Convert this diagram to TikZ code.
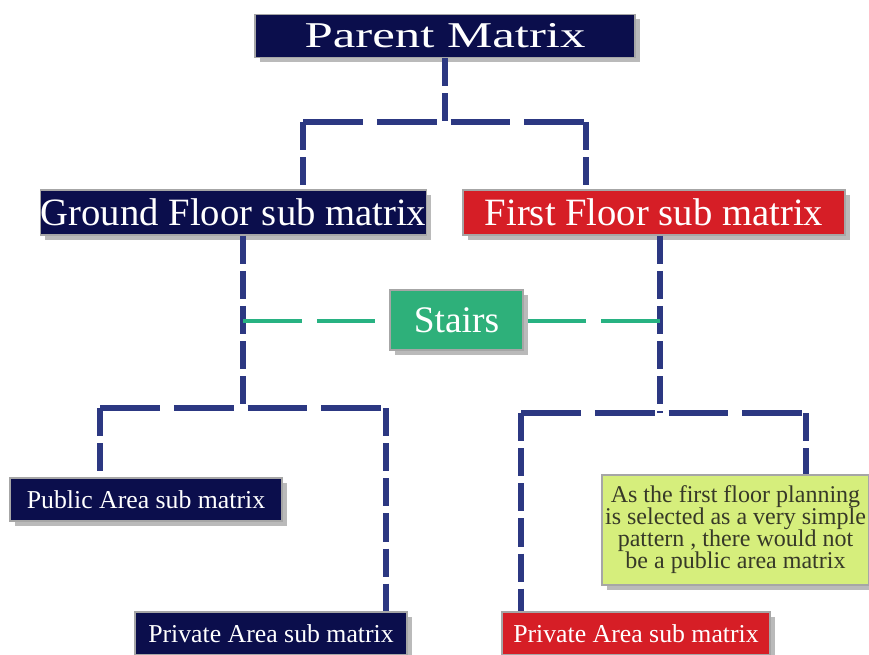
\documentclass[tikz,border=0pt]{standalone}
\usepackage{fontspec}
\setmainfont{Liberation Serif}
\newfontfamily\widefont[FakeStretch=1.4]{Liberation Serif}
\usetikzlibrary{shadows}

\definecolor{navybox}{RGB}{11,14,76}
\definecolor{redbox}{RGB}{214,30,38}
\definecolor{greenbox}{RGB}{46,176,122}
\definecolor{notebox}{RGB}{214,238,124}
\definecolor{notetext}{RGB}{55,57,40}
\definecolor{linkblue}{RGB}{44,56,130}
\definecolor{linkgreen}{RGB}{40,178,130}

\tikzset{
  matbox/.style={draw=gray!70, line width=1.2pt, inner sep=0pt, text=white,
    drop shadow={shadow xshift=4pt, shadow yshift=-4pt, fill=black!45, opacity=0.6}},
  hlink/.style={linkblue, line width=4.5pt, dash pattern=on 51pt off 12pt},
  vlink/.style={linkblue, line width=5pt, dash pattern=on 24pt off 6pt},
  glink/.style={linkgreen, line width=4pt, dash pattern=on 50pt off 13pt}
}

\begin{document}
\begin{tikzpicture}[x=0.03cm, y=-0.03cm]
    \useasboundingbox (0,0) rectangle (869,655);

    % Top level
    \node[matbox, fill=navybox, minimum width=11.4cm, minimum height=1.29cm,
      font=\widefont\fontsize{31}{34}\selectfont] (parent) at (445,36) {Parent Matrix};

    % Floor level
    \node[matbox, fill=navybox, minimum width=11.49cm, minimum height=1.35cm,
      font=\fontsize{33}{36}\selectfont] (ground) at (233.5,212.5) {Ground Floor sub matrix};
    \node[matbox, fill=redbox, minimum width=11.46cm, minimum height=1.35cm,
      font=\fontsize{33}{36}\selectfont] (first) at (654,212.5) {First Floor sub matrix};

    % Stairs
    \node[matbox, fill=greenbox, minimum width=3.99cm, minimum height=1.8cm,
      font=\fontsize{32}{35}\selectfont] (stairs) at (456.5,320) {Stairs};

    % Area level
    \node[matbox, fill=navybox, minimum width=8.16cm, minimum height=1.29cm,
      font=\fontsize{22}{25}\selectfont] (gpublic) at (146,499.5) {Public Area sub matrix};
    \node[matbox, fill=navybox, minimum width=8.16cm, minimum height=1.29cm,
      font=\fontsize{22}{25}\selectfont] (gprivate) at (271,633.5) {Private Area sub matrix};
    \node[matbox, fill=redbox, minimum width=8.04cm, minimum height=1.29cm,
      font=\fontsize{22}{25}\selectfont] (fprivate) at (636,633.5) {Private Area sub matrix};
    \node[matbox, fill=notebox, text=notetext, minimum width=8.01cm, minimum height=3.3cm,
      align=center, font=\fontsize{20.5}{18.8}\selectfont] (note) at (735.5,530)
      {As the first floor planning\\is selected as a very simple\\pattern , there would not\\be a public area matrix};

    % Parent -> floors
    \coordinate (pj) at (445,122);
    \coordinate (pl) at (303,122);
    \coordinate (pr) at (586,122);
    \draw[vlink] (parent.south) -- (pj);
    \draw[hlink] (pl) -- (pr);
    \draw[vlink] (pl) -- (pl |- ground.north);
    \draw[vlink] (pr) -- (pr |- first.north);

    % Ground floor -> areas
    \coordinate (gj) at (243,408);
    \coordinate (gl) at (100,408);
    \coordinate (gr) at (386,408);
    \draw[vlink] (gj |- ground.south) -- (gj);
    \draw[hlink] (gl) -- (gr);
    \draw[vlink] (gl) -- (gl |- gpublic.north);
    \draw[vlink] (gr) -- (gr |- gprivate.north);

    % First floor -> areas
    \coordinate (fj) at (660,413);
    \coordinate (fl) at (521,413);
    \coordinate (fr) at (806,413);
    \draw[vlink] (fj |- first.south) -- (fj);
    \draw[hlink] (fl) -- (fr);
    \draw[vlink] (fl) -- (fl |- fprivate.north);
    \draw[vlink] (fr) -- (fr |- note.north);

    % Stairs link
    \coordinate (gs) at (243,321);
    \coordinate (fs) at (660,321);
    \draw[glink] (gs) -- (gs -| stairs.west);
    \draw[glink] (fs) -- (fs -| stairs.east);
\end{tikzpicture}
\end{document}
